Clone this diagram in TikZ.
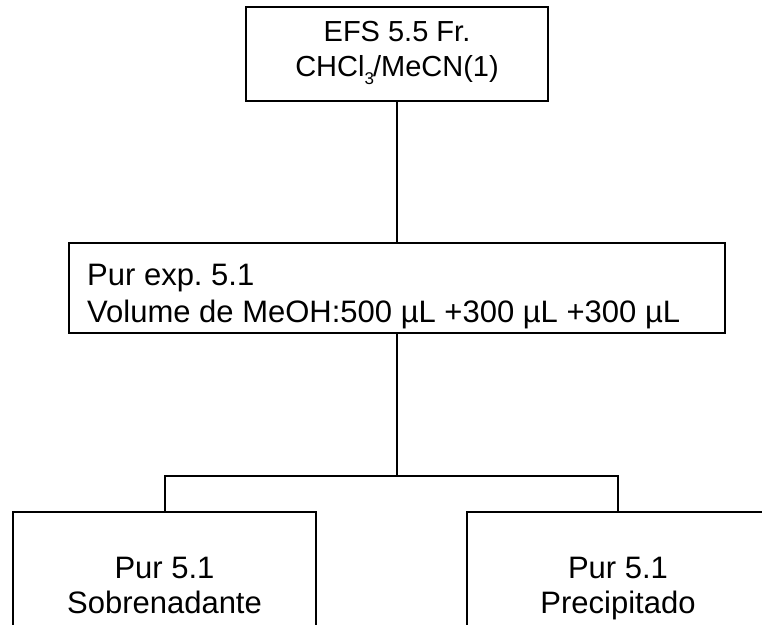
\documentclass[tikz,border=0pt]{standalone}
\usepackage{fontspec}
\setmainfont{Liberation Sans}
\frenchspacing
\begin{document}
\begin{tikzpicture}[x=1pt,y=-1pt,
  box/.style={draw, line width=2pt, inner sep=0pt},
  conn/.style={line width=2pt},
  txt/.style={inner sep=0pt, font=\fontsize{31}{37}\selectfont},
  ttxt/.style={inner sep=0pt, font=\fontsize{29}{35}\selectfont}]
\useasboundingbox (0,0) rectangle (762,624);
\clip (0,0) rectangle (762,624);
% boxes
\node[box, minimum width=302pt, minimum height=94pt] (top) at (397,54) {};
\node[box, minimum width=656pt, minimum height=90pt] (mid) at (396.5,288) {};
\node[box, minimum width=303pt, minimum height=160pt] (left) at (164.5,592) {};
\node[box, minimum width=302pt, minimum height=160pt] (right) at (618,592) {};
% texts
\node[ttxt, anchor=base] (t1) at (397,41) {EFS 5.5 Fr.};
\node[ttxt, anchor=base] (t2) at (397,76) {CHCl\raisebox{-8pt}{\fontsize{17}{17}\selectfont 3}\kern-1pt/MeCN(1)};
\node[txt, anchor=base west] (m1) at (87,285) {Pur exp. 5.1};
\node[txt, anchor=base west] (m2) at (87,322) {Volume de MeOH:500 µL +300 µL +300 µL};
\node[txt, anchor=base] (l1) at (164.5,578) {Pur 5.1};
\node[txt, anchor=base] (l2) at (164.5,613) {Sobrenadante};
\node[txt, anchor=base] (r1) at (618,578) {Pur 5.1};
\node[txt, anchor=base] (r2) at (618,613) {Precipitado};
% connectors
\coordinate (split) at (396.5,476);
\draw[conn] (top.south) -- (top.south |- mid.north);
\draw[conn] (mid.south) -- (split);
\draw[conn] (left.north) |- (split) -| (right.north);
\end{tikzpicture}
\end{document}
